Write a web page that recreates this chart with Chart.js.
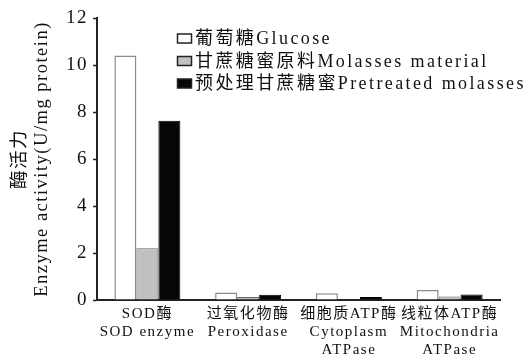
<!DOCTYPE html>
<html>
<head>
<meta charset="utf-8">
<script src="https://cdn.jsdelivr.net/npm/chart.js@4/dist/chart.umd.min.js"></script>
<style>
  html, body { margin: 0; padding: 0; background: #fff; }
  canvas { display: block; }
</style>
</head>
<body>
<canvas id="c" width="527" height="358"></canvas>
<script>
// Enzyme activity under three carbon sources
const categories = [
  ['SOD酶', 'SOD enzyme'],
  ['过氧化物酶', 'Peroxidase'],
  ['细胞质ATP酶', 'Cytoplasm', 'ATPase'],
  ['线粒体ATP酶', 'Mitochondria', 'ATPase']
];
const seriesNames = [
  '葡萄糖Glucose',
  '甘蔗糖蜜原料Molasses material',
  '预处理甘蔗糖蜜Pretreated molasses'
];
const glucose    = [10.4, 0.32, 0.29, 0.43];
const molasses   = [2.2, 0.13, 0.03, 0.15];
const pretreated = [7.63, 0.22, 0.13, 0.23];
const yTicks = [0, 2, 4, 6, 8, 10, 12];
const yTitle = ['酶活力', 'Enzyme activity(U/mg protein)'];

const FAMILY = '"Liberation Serif", "Noto Sans CJK SC", serif';
const INK = '#111';

// Slightly spaced lettering for all text on the canvas
const spacing = {
  id: 'spacing',
  beforeUpdate(chart) { chart.ctx.letterSpacing = '1.5px'; },
  beforeLayout(chart) { chart.ctx.letterSpacing = '1.5px'; },
  beforeDraw(chart) { chart.ctx.letterSpacing = '1.5px'; }
};

// Stacked legend in the upper part of the plot
const boxLegend = {
  id: 'boxLegend',
  afterDraw(chart) {
    const ctx = chart.ctx;
    ctx.save();
    ctx.letterSpacing = '2.4px';
    ctx.font = '18px ' + FAMILY;
    ctx.textBaseline = 'middle';
    ctx.textAlign = 'left';
    chart.data.datasets.forEach((ds, i) => {
      const y = 38.5 + i * 22.5;
      ctx.fillStyle = ds.backgroundColor;
      ctx.fillRect(177.5, y - 4.5, 14, 9);
      ctx.strokeStyle = '#222';
      ctx.lineWidth = 1.5;
      ctx.strokeRect(177.5, y - 4.5, 14, 9);
      ctx.fillStyle = INK;
      ctx.fillText(ds.label, 195, y + 1);
    });
    ctx.restore();
  }
};

new Chart(document.getElementById('c'), {
  type: 'bar',
  data: {
    labels: categories,
    datasets: [
      { label: seriesNames[0], data: glucose,    backgroundColor: '#ffffff', borderColor: '#8a8a8a', borderWidth: 1.5 },
      { label: seriesNames[1], data: molasses,   backgroundColor: '#c0c0c0', borderColor: '#666666', borderWidth: 1 },
      { label: seriesNames[2], data: pretreated, backgroundColor: '#060606', borderColor: '#000000', borderWidth: 1 }
    ]
  },
  options: {
    responsive: false,
    animation: false,
    devicePixelRatio: 1,
    layout: { padding: { top: 18, right: 27, bottom: 0, left: 0 } },
    datasets: { bar: { categoryPercentage: 0.655, barPercentage: 1 } },
    plugins: { legend: { display: false }, tooltip: { enabled: false } },
    scales: {
      x: {
        grid: { display: false, drawTicks: false },
        border: { color: '#222', width: 2 },
        ticks: { color: INK, padding: 5, maxRotation: 0, autoSkip: false,
                 font: { family: FAMILY, size: 15, lineHeight: 1.2 } },
        afterFit(s) { s.height = 58; }
      },
      y: {
        min: 0, max: 12,
        grid: { display: true, drawOnChartArea: false, drawTicks: true, tickLength: 4,
                tickColor: '#222', tickWidth: 1.5 },
        border: { color: '#222', width: 2 },
        ticks: { color: INK, padding: 5, font: { family: FAMILY, size: 19 } },
        afterBuildTicks(s) { s.ticks = yTicks.map(v => ({ value: v })); },
        title: { display: true, text: yTitle, color: INK, padding: { top: 9, bottom: 0 },
                 font: { family: FAMILY, size: 18.5, lineHeight: 1.2 } },
        afterFit(s) { s.width = 97; }
      }
    }
  },
  plugins: [spacing, boxLegend]
});
</script>
</body>
</html>
